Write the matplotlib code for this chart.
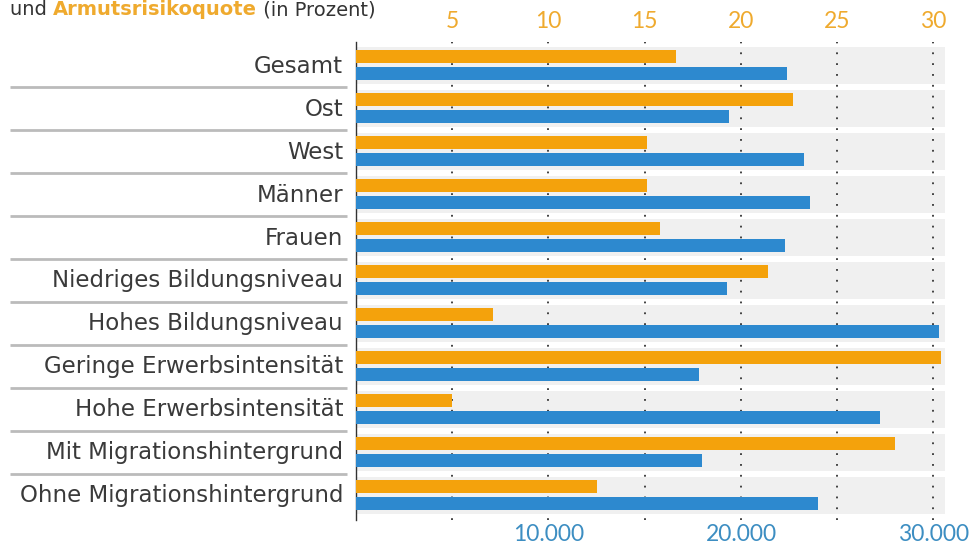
import matplotlib
matplotlib.use("Agg")
import matplotlib.pyplot as plt
import numpy as np

categories = ["Gesamt", "Ost", "West", "Männer", "Frauen",
              "Niedriges Bildungsniveau", "Hohes Bildungsniveau",
              "Geringe Erwerbsintensität", "Hohe Erwerbsintensität",
              "Mit Migrationshintergrund", "Ohne Migrationshintergrund"]
quote_pct = [16.6, 22.7, 15.1, 15.1, 15.8, 21.4, 7.1, 30.4, 5.0, 28.0, 12.5]
einkommen_eur = [22400, 19400, 23300, 23600, 22300, 19300, 30300, 17800, 27200, 18000, 24000]
pct_ticks = [5, 10, 15, 20, 25, 30]
eur_ticks = [10000, 20000, 30000]
eur_ticklabels = ["10.000", "20.000", "30.000"]

ORANGE = "#F4A20C"
BLUE = "#2D89CF"
ORANGE_TXT = "#EFAA2E"
BLUE_TXT = "#3D8EC2"
DARK = "#333333"
LABEL_FONT = ["DejaVu Sans"]
TICK_FONT = ["Lato", "DejaVu Sans"]

plt.rcParams["font.family"] = TICK_FONT

fig = plt.figure(figsize=(9.72, 5.48), dpi=100)
W, H = 972, 548
left, right, top, bottom = 356, 945, 42, 520
ax = fig.add_axes([left / W, 1 - bottom / H, (right - left) / W, (bottom - top) / H])
ax2 = ax.twiny()

n = len(categories)
y = np.arange(n)
ax.set_ylim(n - 1 + 0.58, -0.54)
ax2.set_ylim(n - 1 + 0.58, -0.54)
ax.set_xlim(0, 30.6)
ax2.set_xlim(0, 30600)

# gray bands
ax.barh(y, 30.6, height=0.86, color="#F0F0F0", zorder=0, linewidth=0)
# dotted gridlines
for t in pct_ticks:
    ax.axvline(t, color=DARK, linestyle=(0, (1, 5)), linewidth=1.3, zorder=1)

off = 0.195
bh = 0.31
ax.barh(y - off, quote_pct, height=bh, color=ORANGE, zorder=3, linewidth=0)
ax2.barh(y + off, einkommen_eur, height=bh, color=BLUE, zorder=3, linewidth=0)

for a in (ax, ax2):
    for s in a.spines.values():
        s.set_visible(False)
    a.set_yticks([])
ax2.patch.set_visible(False)

ax.spines["left"].set_visible(True)
ax.spines["left"].set_color(DARK)
ax.spines["left"].set_linewidth(1.0)

# percent ticks on top
ax.xaxis.set_ticks_position("top")
ax.xaxis.set_label_position("top")
ax.set_xticks(pct_ticks)
ax.set_xticklabels([str(t) for t in pct_ticks])
ax.tick_params(axis="x", length=0, pad=7, labelsize=16.5, labelcolor=ORANGE_TXT,
               top=True, bottom=False, labeltop=True, labelbottom=False)

# euro ticks on bottom
ax2.xaxis.set_ticks_position("bottom")
ax2.xaxis.set_label_position("bottom")
ax2.set_xticks(eur_ticks)
ax2.set_xticklabels(eur_ticklabels)
ax2.tick_params(axis="x", length=0, pad=3, labelsize=16.5, labelcolor=BLUE_TXT,
                top=False, bottom=True, labeltop=False, labelbottom=True)

# category labels and separators
trans = ax.get_yaxis_transform()
for i, c in enumerate(categories):
    ax.text(-0.022, i + 0.02, c, transform=trans, ha="right", va="center",
            fontsize=16.5, color="#3A3A3A", family=LABEL_FONT)
for i in range(n - 1):
    ax.plot([-0.587, -0.015], [i + 0.5, i + 0.5], transform=trans,
            color="#BBBBBB", linewidth=2, clip_on=False, solid_capstyle="butt")

# title line at top
ty = 1 - 15 / H
t1 = fig.text(10 / W, ty, "und ", fontsize=14, color=DARK, va="baseline", family=LABEL_FONT)
t2 = fig.text(0, 0, "Armutsrisikoquote", fontsize=14, color=ORANGE_TXT, fontweight="bold", family=LABEL_FONT)
t3 = fig.text(0, 0, " (in Prozent)", fontsize=14, color=DARK, family=LABEL_FONT)
fig.canvas.draw()
r = fig.canvas.get_renderer()
bb = t1.get_window_extent(r)
t2.set_position((bb.x1 / W, ty)); t2.set_va("baseline")
fig.canvas.draw()
bb2 = t2.get_window_extent(r)
t3.set_position((bb2.x1 / W, ty)); t3.set_va("baseline")

fig.savefig("out.png", dpi=100, facecolor="white")
